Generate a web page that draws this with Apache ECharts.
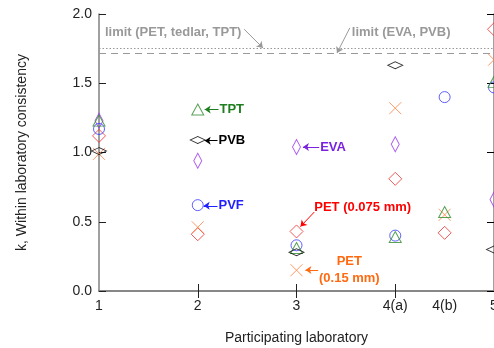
<!DOCTYPE html>
<html>
<head>
<meta charset="utf-8">
<script src="https://cdn.jsdelivr.net/npm/echarts@6/dist/echarts.min.js"></script>
<style>
  html, body { margin: 0; padding: 0; background: #fff; overflow: hidden; }
  #chart { width: 494px; height: 348px; }
</style>
</head>
<body>
<div id="chart"></div>
<script>
// x position of each laboratory and its tick label
const labX = [1, 2, 3, 4, 4.5, 5];
const labText = ['1', '2', '3', '4(a)', '4(b)', '5'];

// k values per material, one entry per lab (null = not measured)
const tpt    = [1.23, 1.31, 0.31, 0.39, 0.57, 1.51];
const pvb    = [1.01, 1.09, 0.28, 1.63, null, 0.30];
const eva    = [1.23, 0.94, 1.04, 1.06, null, 0.66];
const pvf    = [1.17, 0.62, 0.33, 0.40, 1.40, 1.47];
const pet075 = [1.12, 0.41, 0.43, 0.81, 0.42, 1.89];
const pet15  = [0.99, 0.46, 0.15, 1.32, 0.55, 1.67];

// critical k limits
const limitPET = 1.75;
const limitEVA = 1.715;

const FONT = '"Liberation Sans", Arial, sans-serif';
const CROSS = 'path://M0,0L10,10M10,0L0,10';

// annotation texts (data coords) and arrows [from, to]
const notes = [
  { text: 'TPT', at: [2.22, 1.31], color: '#1e7d1e', arrow: [[2.21, 1.31], [2.07, 1.31]] },
  { text: 'PVB', at: [2.21, 1.085], color: '#000000', arrow: [[2.2, 1.085], [2.07, 1.085]] },
  { text: 'PVF', at: [2.21, 0.615], color: '#1f1fff', arrow: [[2.2, 0.615], [2.06, 0.615]] },
  { text: 'EVA', at: [3.24, 1.04], color: '#7a22e0', arrow: [[3.23, 1.04], [3.065, 1.04]] },
  { text: 'PET (0.075 mm)', at: [3.18, 0.6], color: '#ff0000', arrow: [[3.18, 0.57], [3.04, 0.465]] },
  { text: 'PET\n(0.15 mm)', at: [3.535, 0.15], color: '#ff6a10', align: 'center', arrow: [[3.22, 0.152], [3.09, 0.152]] },
  { text: 'limit (PET, tedlar, TPT)', at: [1.06, 1.865], color: '#999999', arrow: [[2.47, 1.89], [2.66, 1.755]] },
  { text: 'limit (EVA, PVB)', at: [3.56, 1.865], color: '#999999', arrow: [[3.54, 1.9], [3.41, 1.718]] }
];

function pts(vals) {
  return labX.map((x, i) => [x, vals[i]]).filter(p => p[1] != null);
}

function hollow(name, vals, symbol, size, color) {
  return {
    name, type: 'scatter', data: pts(vals), symbol, symbolSize: size,
    itemStyle: { color: 'rgba(0,0,0,0)', borderColor: color, borderWidth: 1 },
    emphasis: { disabled: true }, z: 3
  };
}

function arrowLines() {
  return {
    name: 'arrows', type: 'scatter', data: [], silent: true,
    markLine: {
      silent: true, animation: false,
      symbol: ['none', 'arrow'], symbolSize: 6,
      label: { show: false },
      data: notes.map(n => [
        { coord: n.arrow[0], lineStyle: { color: n.color, width: 1, type: 'solid' }, itemStyle: { color: n.color } },
        { coord: n.arrow[1] }
      ])
    }
  };
}

const limits = {
  name: 'limits', type: 'scatter', data: [], silent: true,
  markLine: {
    silent: true, animation: false, symbol: 'none', label: { show: false },
    data: [
      { yAxis: limitPET, lineStyle: { color: '#999', width: 1, type: [1.5, 2] } },
      { yAxis: limitEVA, lineStyle: { color: '#999', width: 1.2, type: [7, 5] } }
    ]
  }
};

const axisLine = { lineStyle: { color: '#808080', width: 1.5 } };

const chart = echarts.init(document.getElementById('chart'));
chart.setOption({
  animation: false,
  textStyle: { fontFamily: FONT },
  grid: { left: 99, right: 0, top: 14, bottom: 57, outerBoundsMode: 'none', containLabel: false },
  xAxis: [
    {
      type: 'value', position: 'bottom', min: 1, max: 5, interval: 1,
      axisLine,
      axisTick: { inside: true, length: 7, customValues: [2, 3, 4], lineStyle: { color: '#222' } },
      axisLabel: {
        customValues: labX, margin: 8, color: '#222', fontSize: 14, fontFamily: FONT,
        formatter: v => labText[labX.indexOf(v)] || ''
      },
      splitLine: { show: false },
      name: 'Participating laboratory', nameLocation: 'middle', nameGap: 40,
      nameTextStyle: { color: '#222', fontSize: 14, fontFamily: FONT }
    },
    {
      type: 'value', position: 'top', min: 1, max: 5, interval: 1,
      axisLine,
      axisTick: { inside: true, length: 7, customValues: [2, 3, 4], lineStyle: { color: '#222' } },
      axisLabel: { show: false },
      splitLine: { show: false }
    }
  ],
  yAxis: [
    {
      type: 'value', position: 'left', min: 0, max: 2, interval: 0.5,
      axisLine,
      axisTick: { inside: true, length: 7, lineStyle: { color: '#222' } },
      axisLabel: { margin: 7, color: '#222', fontSize: 14, fontFamily: FONT, formatter: v => v.toFixed(1) },
      splitLine: { show: false },
      name: 'k, Within laboratory consistency', nameLocation: 'middle', nameGap: 70,
      nameTextStyle: { color: '#222', fontSize: 14, fontFamily: FONT }
    },
    {
      type: 'value', position: 'right', min: 0, max: 2, interval: 0.5,
      axisLine,
      axisTick: { inside: true, length: 7, lineStyle: { color: '#000' } },
      axisLabel: { show: false },
      splitLine: { show: false }
    }
  ],
  series: [
    limits,
    hollow('PET (0.075 mm)', pet075, 'diamond', [13, 13], '#ee3030'),
    hollow('PET (0.15 mm)', pet15, CROSS, [12, 12], '#ff8040'),
    hollow('EVA', eva, 'diamond', [8, 15], '#9933ee'),
    hollow('PVF', pvf, 'circle', [11, 11], '#3838ff'),
    hollow('TPT', tpt, 'triangle', [12, 11], '#2e8b2e'),
    hollow('PVB', pvb, 'diamond', [15, 7], '#000000'),
    arrowLines()
  ]
});

// place the annotation texts at their data coordinates
chart.setOption({
  graphic: notes.map(n => {
    const p = chart.convertToPixel({ gridIndex: 0 }, n.at);
    return {
      type: 'text', x: p[0], y: p[1], silent: true, z: 10,
      style: {
        text: n.text, fill: n.color, fontFamily: FONT, fontWeight: 'bold', fontSize: 13,
        align: n.align || 'left', verticalAlign: 'middle', lineHeight: 17
      }
    };
  })
});
</script>
</body>
</html>
